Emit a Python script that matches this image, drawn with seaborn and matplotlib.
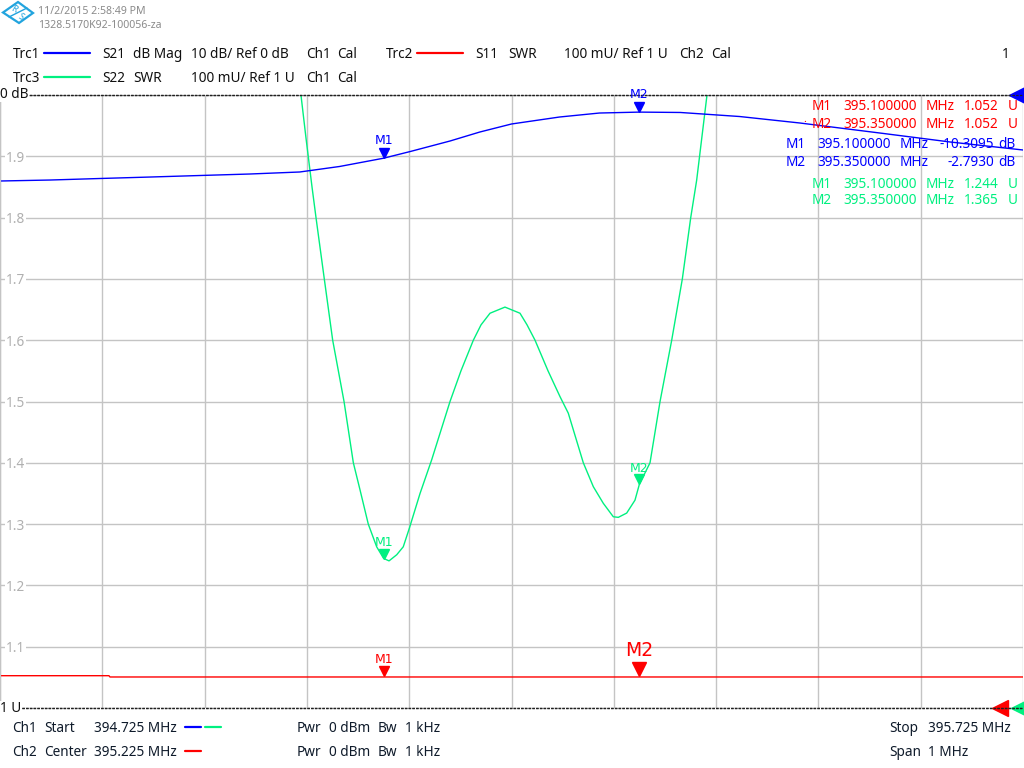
import numpy as np
import pandas as pd
import seaborn as sns
import matplotlib.pyplot as plt
from matplotlib.transforms import offset_copy
from matplotlib.patches import Polygon

# Trc1: S21 dB Mag (10 dB/div, ref 0 dB at top)
s21_freq = [394.725, 394.774, 394.823, 394.872, 394.921, 394.969, 395.018, 395.057,
            395.100, 395.126, 395.165, 395.194, 395.225, 395.272, 395.311, 395.350,
            395.390, 395.448, 395.507, 395.585, 395.654, 395.725]
s21_db = [-14.03, -13.87, -13.62, -13.38, -13.13, -12.89, -12.56, -11.66,
          -10.31, -9.22, -7.50, -6.04, -4.73, -3.59, -2.94, -2.79,
          -2.85, -3.51, -4.57, -6.20, -7.67, -8.97]

# Trc3: S22 SWR
s22_freq = [395.0192, 395.0241, 395.0300, 395.0339, 395.0420, 395.0502, 395.0613, 395.0704,
            395.0769, 395.0850, 395.0932, 395.1000, 395.1053, 395.1128, 395.1192, 395.1251,
            395.1356, 395.1470, 395.1649, 395.1756, 395.1877, 395.1952, 395.2040, 395.2186,
            395.2333, 395.2402, 395.2480, 395.2607, 395.2724, 395.2805, 395.2952, 395.3050,
            395.3147, 395.3245, 395.3294, 395.3376, 395.3457, 395.3500, 395.3604, 395.3702,
            395.3816, 395.3920, 395.4002, 395.4060, 395.4161]
s22_swr = [2.000, 1.930, 1.850, 1.800, 1.700, 1.600, 1.500, 1.400,
           1.356, 1.300, 1.263, 1.244, 1.240, 1.250, 1.263, 1.293,
           1.350, 1.405, 1.500, 1.550, 1.600, 1.625, 1.644, 1.654,
           1.644, 1.625, 1.600, 1.550, 1.508, 1.481, 1.400, 1.361,
           1.334, 1.312, 1.311, 1.318, 1.339, 1.365, 1.400, 1.500,
           1.600, 1.700, 1.800, 1.861, 2.000]

# Trc2: S11 SWR
s11_freq = [394.725, 394.8315, 394.8325, 395.725]
s11_swr = [1.0527, 1.0527, 1.0506, 1.0506]

# markers
mk_names = ['M1', 'M2']
mk_freq = [395.100, 395.350]
mk_s11 = [1.052, 1.052]
mk_s21 = [-10.3095, -2.7930]
mk_s22 = [1.244, 1.365]

f_start, f_stop = 394.725, 395.725
swr_ticks = [1.0, 1.1, 1.2, 1.3, 1.4, 1.5, 1.6, 1.7, 1.8, 1.9, 2.0]
swr_labels = ['', '1.1', '1.2', '1.3', '1.4', '1.5', '1.6', '1.7', '1.8', '1.9', '']

BLUE = '#0000ff'
RED = '#ff0000'
GREEN = '#00f080'
GRID = '#c4c4c4'
TXT = '#101010'
TXT2 = '#0e1a2a'

sns.set_style('white')
plt.rcParams['font.family'] = ['Noto Sans', 'DejaVu Sans']
FS = 9.8

fig = plt.figure(figsize=(10.24, 7.68), dpi=100)
W, H = 1024, 768


def px(x, y):
    return x / W, 1 - y / H


def put(x, y, s, color=TXT, size=FS, ha='left', **kw):
    fig.text(*px(x, y), s, color=color, fontsize=size, ha=ha, va='center', **kw)


ax = fig.add_axes([0, 60 / H, 1023 / W, 613 / H])
ax2 = ax.twinx()

df_s11 = pd.DataFrame({'freq': s11_freq, 'swr': s11_swr})
df_s22 = pd.DataFrame({'freq': s22_freq, 'swr': s22_swr})
df_s21 = pd.DataFrame({'freq': s21_freq, 'db': s21_db})

sns.lineplot(df_s11, x='freq', y='swr', ax=ax, color=RED, lw=1.0, estimator=None)
sns.lineplot(df_s22, x='freq', y='swr', ax=ax, color=GREEN, lw=1.0, estimator=None)
sns.lineplot(df_s21, x='freq', y='db', ax=ax2, color=BLUE, lw=1.0, estimator=None)

ax.set_xlim(f_start, f_stop)
ax.set_ylim(1.0, 2.0)
ax2.set_ylim(-100, 0)
ax.set_xticks(np.linspace(f_start, f_stop, 11))
ax.set_yticks(swr_ticks)
ax.set_yticklabels(swr_labels)
ax.grid(True, color=GRID, lw=1.0)
ax.tick_params(axis='x', length=0, labelbottom=False)
ax.tick_params(axis='y', length=0, pad=-18, labelcolor='#b0b0b0', labelsize=FS)
for t in ax.get_yticklabels():
    t.set_bbox(dict(facecolor='white', edgecolor='none', pad=0.8))
ax.set_xlabel(None)
ax.set_ylabel(None)
ax2.set_ylabel(None)
ax2.set_yticks([])
for a in (ax, ax2):
    for side in ('top', 'bottom'):
        a.spines[side].set_linestyle((0, (1, 2)))
        a.spines[side].set_color('#202020')
        a.spines[side].set_linewidth(0.9)
    a.spines['left'].set_color(GRID)
    a.spines['right'].set_visible(False)
ax.set_axisbelow(True)


def markers(a, xs, ys, color, ms=7, lab_off=13, lab_size=9, big=None):
    for i, (name, xv, yv) in enumerate(zip(mk_names, xs, ys)):
        size = ms
        lsize = lab_size
        loff = lab_off
        if big == i:
            size, lsize, loff = 10.5, 13.5, 18.5
        tr = offset_copy(a.transData, fig=fig, y=size / 2, units='points')
        a.plot([xv], [yv], marker='v', ms=size, color=color, mec=color, ls='none',
               transform=tr, clip_on=False, zorder=5)
        a.annotate(name, (xv, yv), xytext=(0, loff), textcoords='offset points',
                   ha='center', va='center', color=color, fontsize=lsize,
                   family='DejaVu Sans', zorder=6)


markers(ax, mk_freq, mk_s11, RED, big=1, lab_off=12)
markers(ax, mk_freq, mk_s22, GREEN, lab_off=11.5)
markers(ax2, mk_freq, mk_s21, BLUE, lab_off=13)

# reference position triangles on the right edge
ax2.plot([0.9941], [1.0], marker='<', ms=11, color=BLUE, transform=ax2.transAxes, clip_on=False)
ax.plot([0.9775], [0.0], marker='<', ms=12, color=RED, transform=ax.transAxes, clip_on=False)
ax.plot([0.9965], [0.0], marker='<', ms=12, color=GREEN, transform=ax.transAxes, clip_on=False, zorder=1)

# marker readout table
rows = [
    (106, 812, 'M1', '395.100000', '1.052', 'U', RED, 999, 1008),
    (125, 812, 'M2', '395.350000', '1.052', 'U', RED, 999, 1008),
    (144, 786, 'M1', '395.100000', '-10.3095', 'dB', BLUE, 994, 998),
    (163, 786, 'M2', '395.350000', '-2.7930', 'dB', BLUE, 994, 998),
    (184, 812, 'M1', '395.100000', '1.244', 'U', GREEN, 999, 1008),
    (200, 812, 'M2', '395.350000', '1.365', 'U', GREEN, 999, 1008),
]
for y, x0, name, fr, val, unit, col, xv, xu in rows:
    put(x0, y, name, color=col)
    put(x0 + 31, y, fr, color=col)
    put(x0 + 114, y, 'MHz', color=col)
    put(xv, y, val, color=col, ha='right')
    put(xu, y, unit, color=col)
fig.text(*px(805, 125), '.', color=RED, fontsize=8, ha='center', va='bottom')

# logo and header
logo = Polygon([px(3, 12.5), px(18, 2), px(33, 13), px(19, 23)], closed=True,
               fill=False, edgecolor='#22a4de', lw=1.6, transform=fig.transFigure)
fig.add_artist(logo)
fig.add_artist(plt.Line2D([px(9, 17)[0], px(27, 8)[0]], [px(9, 17)[1], px(27, 8)[1]],
                          color='#22a4de', lw=1.0, transform=fig.transFigure))
put(14, 9, 'R', color='#22a4de', size=6.5, ha='center', rotation=-30)
put(21, 17, 'S', color='#22a4de', size=6.5, ha='center', rotation=-30)
put(38, 11, '11/2/2015 2:58:49 PM', color='#8a8a8a', size=7.6)
put(38, 25, '1328.5170K92-100056-za', color='#8a8a8a', size=7.6)


def legline(x0, x1, y, color):
    fig.add_artist(plt.Line2D([x0 / W, x1 / W], [1 - y / H, 1 - y / H], color=color,
                              lw=1.6, transform=fig.transFigure))


put(13, 54, 'Trc1')
legline(44, 90, 53, BLUE)
put(102, 54, 'S21')
put(133, 54, 'dB Mag')
put(191, 54, '10 dB/ Ref 0 dB')
put(306, 54, 'Ch1')
put(337, 54, 'Cal')
put(386, 54, 'Trc2')
legline(417, 463, 53, RED)
put(475, 54, 'S11')
put(508, 54, 'SWR')
put(564, 54, '100 mU/ Ref 1 U')
put(679, 54, 'Ch2')
put(711, 54, 'Cal')
put(1002, 54, '1')

put(13, 78, 'Trc3')
legline(44, 90, 77, GREEN)
put(102, 78, 'S22')
put(133, 78, 'SWR')
put(191, 78, '100 mU/ Ref 1 U')
put(306, 78, 'Ch1')
put(337, 78, 'Cal')

bb = dict(facecolor='white', edgecolor='none', pad=0.6)
put(0, 94, '0 dB', bbox=bb)
put(0, 709, '1 U', bbox=bb)

# channel footer
put(12, 728, 'Ch1', color=TXT2)
put(44, 728, 'Start', color=TXT2)
put(94, 728, '394.725 MHz', color=TXT2)
legline(185, 201, 727, BLUE)
legline(205, 221, 727, GREEN)
put(297, 728, 'Pwr', color=TXT2)
put(329, 728, '0 dBm', color=TXT2)
put(378, 728, 'Bw', color=TXT2)
put(405, 728, '1 kHz', color=TXT2)
put(889, 728, 'Stop', color=TXT2)
put(928, 728, '395.725 MHz', color=TXT2)

put(12, 752, 'Ch2', color=TXT2)
put(44, 752, 'Center', color=TXT2)
put(94, 752, '395.225 MHz', color=TXT2)
legline(185, 201, 751, RED)
put(297, 752, 'Pwr', color=TXT2)
put(329, 752, '0 dBm', color=TXT2)
put(378, 752, 'Bw', color=TXT2)
put(405, 752, '1 kHz', color=TXT2)
put(889, 752, 'Span', color=TXT2)
put(928, 752, '1 MHz', color=TXT2)

fig.savefig('out.png', dpi=100)
